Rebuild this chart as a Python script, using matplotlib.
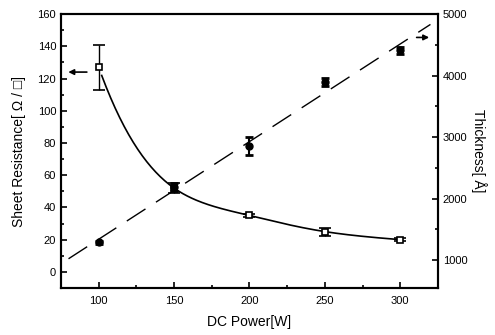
import numpy as np
import matplotlib
matplotlib.use("Agg")
import matplotlib.pyplot as plt
from matplotlib.ticker import MultipleLocator

# datos
power = [100, 150, 200, 250, 300]
resistance = [127, 52, 35, 25, 20]
resistance_err = [14, 3, 1, 2.5, 1]
thickness = [1290, 2190, 2850, 3890, 4410]
thickness_err = [25, 60, 145, 65, 60]

plt.rcParams['font.family'] = ['Liberation Sans', 'DejaVu Sans']


def natural_spline(x, y, xs):
    # spline cubico natural simple
    x = np.asarray(x, float)
    y = np.asarray(y, float)
    n = len(x)
    h = np.diff(x)
    A = np.zeros((n, n))
    b = np.zeros(n)
    A[0, 0] = 1
    A[-1, -1] = 1
    for i in range(1, n - 1):
        A[i, i - 1] = h[i - 1]
        A[i, i] = 2 * (h[i - 1] + h[i])
        A[i, i + 1] = h[i]
        b[i] = 6 * ((y[i + 1] - y[i]) / h[i] - (y[i] - y[i - 1]) / h[i - 1])
    M = np.linalg.solve(A, b)
    out = np.zeros_like(xs)
    for k, xv in enumerate(xs):
        i = min(np.searchsorted(x, xv) - 1, n - 2)
        i = max(i, 0)
        t1 = x[i + 1] - xv
        t0 = xv - x[i]
        out[k] = (M[i] * t1 ** 3 + M[i + 1] * t0 ** 3) / (6 * h[i]) \
            + (y[i] / h[i] - M[i] * h[i] / 6) * t1 \
            + (y[i + 1] / h[i] - M[i + 1] * h[i] / 6) * t0
    return out


fig = plt.figure(figsize=(4.95, 3.35), dpi=100)
ax = fig.add_axes([0.1232, 0.1403, 0.7616, 0.8177])
ax2 = ax.twinx()

# curva de resistencia (spline en escala log para que quede suave)
xs = np.linspace(102, 300, 200)
ax.plot(xs, np.exp(natural_spline(power, np.log(resistance), xs)), color='black', lw=1.2)
ax.errorbar(power, resistance, yerr=resistance_err, fmt='s', mfc='white', mec='black',
            ms=5, mew=1.2, ecolor='black', elinewidth=1, capsize=4, capthick=1)

# espesor con ajuste lineal
coef = np.polyfit(power, thickness, 1)
xl = np.array([80, 320])
ax2.plot(xl, np.polyval(coef, xl), color='black', lw=1, dashes=(16, 9))
ax2.errorbar(power, thickness, yerr=thickness_err, fmt='o', mfc='black', mec='black',
             ms=5, ecolor='black', elinewidth=1.5, capsize=3, capthick=2)

ax.set_xlim(75, 325)
ax.set_ylim(-10, 160)
ax2.set_ylim(545, 5000)

ax.xaxis.set_major_locator(MultipleLocator(50))
ax.xaxis.set_minor_locator(MultipleLocator(25))
ax.yaxis.set_major_locator(MultipleLocator(20))
ax.yaxis.set_minor_locator(MultipleLocator(10))
ax2.yaxis.set_major_locator(MultipleLocator(1000))
ax2.yaxis.set_minor_locator(MultipleLocator(500))

for a in (ax, ax2):
    a.tick_params(which='both', direction='in', labelsize=8, width=1.2)
    a.tick_params(which='major', length=4)
    a.tick_params(which='minor', length=2)
    for s in a.spines.values():
        s.set_linewidth(1.5)
ax.tick_params(axis='x', pad=6)

ax.set_xlabel('DC Power[W]', fontsize=10, labelpad=6)
ax.set_ylabel('Sheet Resistance[ Ω / □]', fontsize=10, labelpad=8)
ax2.set_ylabel('Thickness[ Å]', fontsize=10, rotation=270, labelpad=14)

# flechas indicando el eje
ax.annotate('', xy=(78, 124), xytext=(94, 124),
            arrowprops=dict(arrowstyle='-|>', color='black', lw=1.2, mutation_scale=8))
ax2.annotate('', xy=(321, 4620), xytext=(309, 4620),
             arrowprops=dict(arrowstyle='-|>', color='black', lw=1.2, mutation_scale=8))

fig.savefig('out.png', dpi=100)
